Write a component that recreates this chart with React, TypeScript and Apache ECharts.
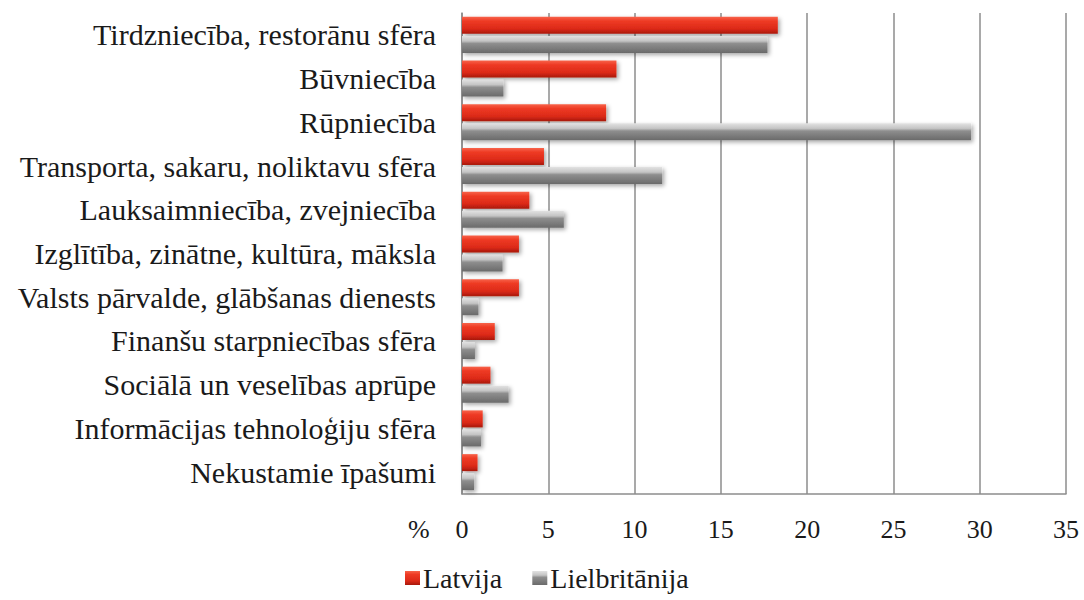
import React, { useEffect, useRef } from "react";
import * as echarts from "echarts";

const categories = [
  "Tirdzniecība, restorānu sfēra",
  "Būvniecība",
  "Rūpniecība",
  "Transporta, sakaru, noliktavu sfēra",
  "Lauksaimniecība, zvejniecība",
  "Izglītība, zinātne, kultūra, māksla",
  "Valsts pārvalde, glābšanas dienests",
  "Finanšu starpniecības sfēra",
  "Sociālā un veselības aprūpe",
  "Informācijas tehnoloģiju sfēra",
  "Nekustamie īpašumi",
];

const latvija = [18.3, 8.95, 8.35, 4.75, 3.9, 3.3, 3.3, 1.9, 1.65, 1.2, 0.9];
const lielbritanija = [17.7, 2.4, 29.5, 11.6, 5.9, 2.35, 0.95, 0.75, 2.7, 1.1, 0.7];

const seriesNames = ["Latvija", "Lielbritānija"];
const xTicks = { min: 0, max: 35, interval: 5 };
const axisUnit = "%";

const FONT = "Liberation Serif";

const redGrad = new echarts.graphic.LinearGradient(0, 0, 0, 1, [
  { offset: 0, color: "#f7634a" },
  { offset: 0.25, color: "#ee3a24" },
  { offset: 0.7, color: "#dc2a18" },
  { offset: 1, color: "#a8180c" },
]);
const grayGrad = new echarts.graphic.LinearGradient(0, 0, 0, 1, [
  { offset: 0, color: "#e2e2e2" },
  { offset: 0.3, color: "#c4c4c4" },
  { offset: 0.45, color: "#8e8e8e" },
  { offset: 1, color: "#6a6a6a" },
]);

export default function App() {
  const ref = useRef<HTMLDivElement>(null);
  useEffect(() => {
    if (!ref.current) return;
    const chart = echarts.init(ref.current, null, { renderer: "svg" });
    chart.setOption({
      animation: false,
      backgroundColor: "#ffffff",
      textStyle: { fontFamily: FONT },
      grid: { left: 462, right: 18, top: 13, bottom: 106, containLabel: false },
      legend: {
        data: seriesNames,
        left: 405,
        top: 563,
        padding: 0,
        icon: "rect",
        itemWidth: 15,
        itemHeight: 14,
        itemGap: 30,
        textStyle: {
          fontFamily: FONT,
          fontSize: 28,
          lineHeight: 30,
          color: "#1a1a1a",
          padding: [0, 0, 0, -2],
        },
      },
      xAxis: {
        type: "value",
        min: xTicks.min,
        max: xTicks.max,
        interval: xTicks.interval,
        axisLine: { show: true, lineStyle: { color: "#8c8c8c", width: 1.5 } },
        axisTick: { show: false },
        splitLine: { show: true, lineStyle: { color: "#8c8c8c", width: 1.5 } },
        axisLabel: { fontFamily: FONT, fontSize: 26, color: "#1a1a1a", margin: 22 },
      },
      yAxis: {
        type: "category",
        data: categories,
        inverse: true,
        axisLine: { show: true, lineStyle: { color: "#8c8c8c", width: 1.5 } },
        axisTick: { show: false },
        axisLabel: { fontFamily: FONT, fontSize: 30, color: "#1a1a1a", margin: 26 },
      },
      graphic: [
        {
          type: "text",
          left: 408,
          top: 516,
          style: { text: axisUnit, fontFamily: FONT, fontSize: 26, fill: "#1a1a1a" },
        },
      ],
      series: [
        {
          name: seriesNames[0],
          type: "bar",
          data: latvija,
          barWidth: 17,
          barGap: "12%",
          itemStyle: {
            color: redGrad,
            shadowColor: "rgba(0,0,0,0.35)",
            shadowBlur: 4,
            shadowOffsetX: 2,
            shadowOffsetY: 2,
          },
        },
        {
          name: seriesNames[1],
          type: "bar",
          data: lielbritanija,
          barWidth: 17,
          barGap: "12%",
          itemStyle: {
            color: grayGrad,
            shadowColor: "rgba(0,0,0,0.35)",
            shadowBlur: 4,
            shadowOffsetX: 2,
            shadowOffsetY: 2,
          },
        },
      ],
    });
    return () => chart.dispose();
  }, []);
  return <div ref={ref} style={{ width: 1084, height: 600, position: "absolute", left: 0, top: 0 }} />;
}
